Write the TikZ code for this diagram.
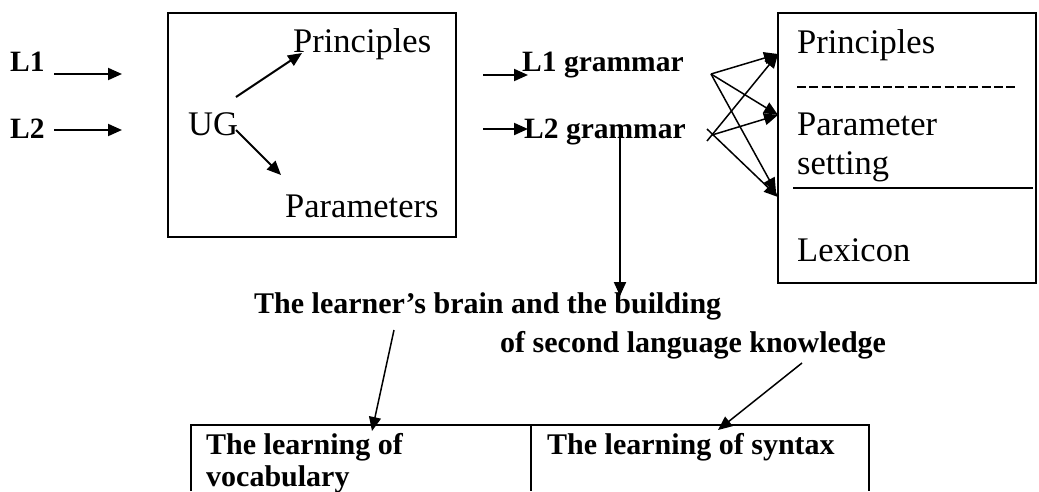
\documentclass[tikz,border=0pt]{standalone}
\usepackage{fontspec}
\setmainfont{Liberation Serif}
\usetikzlibrary{arrows.meta}
\begin{document}
\begin{tikzpicture}[x=1pt,y=-1pt,
  reg/.style={font=\fontsize{34.5}{38}\selectfont, inner sep=0pt, anchor=base west},
  bld/.style={font=\fontsize{29.5}{34}\selectfont\bfseries, inner sep=0pt, anchor=base west},
  bldb/.style={font=\fontsize{30}{34}\selectfont\bfseries, inner sep=0pt, anchor=base west},
  frame/.style={draw, line width=2pt},
  arr/.style={line width=2pt, -{Triangle[length=14pt,width=12pt]}},
  thin/.style={line width=1.5pt, -{Triangle[length=14pt,width=12pt]}}]
\useasboundingbox (0,0) rectangle (1039,491);
% left inputs
\node[bld] (L1) at (10,71) {L1};
\node[bld] (L2) at (10,138) {L2};
\coordinate (L1s) at (54,74);
\coordinate (L1e) at (122,74);
\coordinate (L2s) at (54,130);
\coordinate (L2e) at (122,130);
\draw[arr] (L1s) -- (L1e);
\draw[arr] (L2s) -- (L2e);
% UG box
\draw[frame] (168,13) rectangle (456,237);
\node[reg] (UG) at (188,135) {UG};
\node[reg] (Pr1) at (293,52) {Principles};
\node[reg] (Pa1) at (285,217) {Parameters};
\coordinate (ug1) at (236,97);
\coordinate (ug2) at (236,130);
\coordinate (pr1t) at (302,53);
\coordinate (pa1t) at (281,175);
\draw[arr] (ug1) -- (pr1t);
\draw[arr] (ug2) -- (pa1t);
% grammars
\node[bld] (G1) at (522,71) {L1 grammar};
\node[bld] (G2) at (524,138) {L2 grammar};
\coordinate (g1s) at (483,75);
\coordinate (g1e) at (528,75);
\coordinate (g2s) at (483,129);
\coordinate (g2e) at (528,129);
\draw[arr] (g1s) -- (g1e);
\draw[arr] (g2s) -- (g2e);
% right box
\draw[frame] (778,13) rectangle (1036,283);
\node[reg] (Pr2) at (797,53) {Principles};
\draw[line width=1.8pt, dash pattern=on 9pt off 3.3pt] (797,87) -- (1018,87);
\node[reg] (Ps) at (797,135) {Parameter};
\node[reg] (St) at (797,174) {setting};
\draw[line width=2pt] (793,188) -- (1033,188);
\node[reg] (Lx) at (797,261) {Lexicon};
% fan of arrows
\coordinate (f1) at (711,74);
\coordinate (f2a) at (707,141);
\coordinate (f2b) at (707,129);
\coordinate (f2) at (712,135);
\coordinate (t1) at (778,54);
\coordinate (t2) at (778,115);
\coordinate (t3) at (778,197);
\coordinate (t3b) at (776,192);
\draw[thin] (f1) -- (t1);
\draw[thin] (f1) -- (t2);
\draw[thin] (f1) -- (t3b);
\draw[thin] (f2a) -- (t1);
\draw[thin] (f2) -- (t2);
\draw[thin] (f2b) -- (t3);
% vertical arrow
\coordinate (vs) at (620,137);
\coordinate (ve) at (620,296);
\draw[arr] (vs) -- (ve);
% bottom text
\node[bldb] (B1) at (254,313) {The learner’s brain and the building};
\node[bldb] (B2) at (500,352) {of second language knowledge};
\coordinate (a1s) at (394,330);
\coordinate (a1e) at (372,431);
\coordinate (a2s) at (802,363);
\coordinate (a2e) at (718,430);
\draw[thin] (a1s) -- (a1e);
\draw[thin] (a2s) -- (a2e);
% table
\draw[line width=2pt] (191,491) -- (191,425) -- (869,425) -- (869,491);
\draw[line width=2pt] (531,425) -- (531,491);
\node[bldb] (T1) at (206,454) {The learning of};
\node[bldb] (T2) at (206,486) {vocabulary};
\node[bldb] (T3) at (547,454) {The learning of syntax};
\end{tikzpicture}
\end{document}
